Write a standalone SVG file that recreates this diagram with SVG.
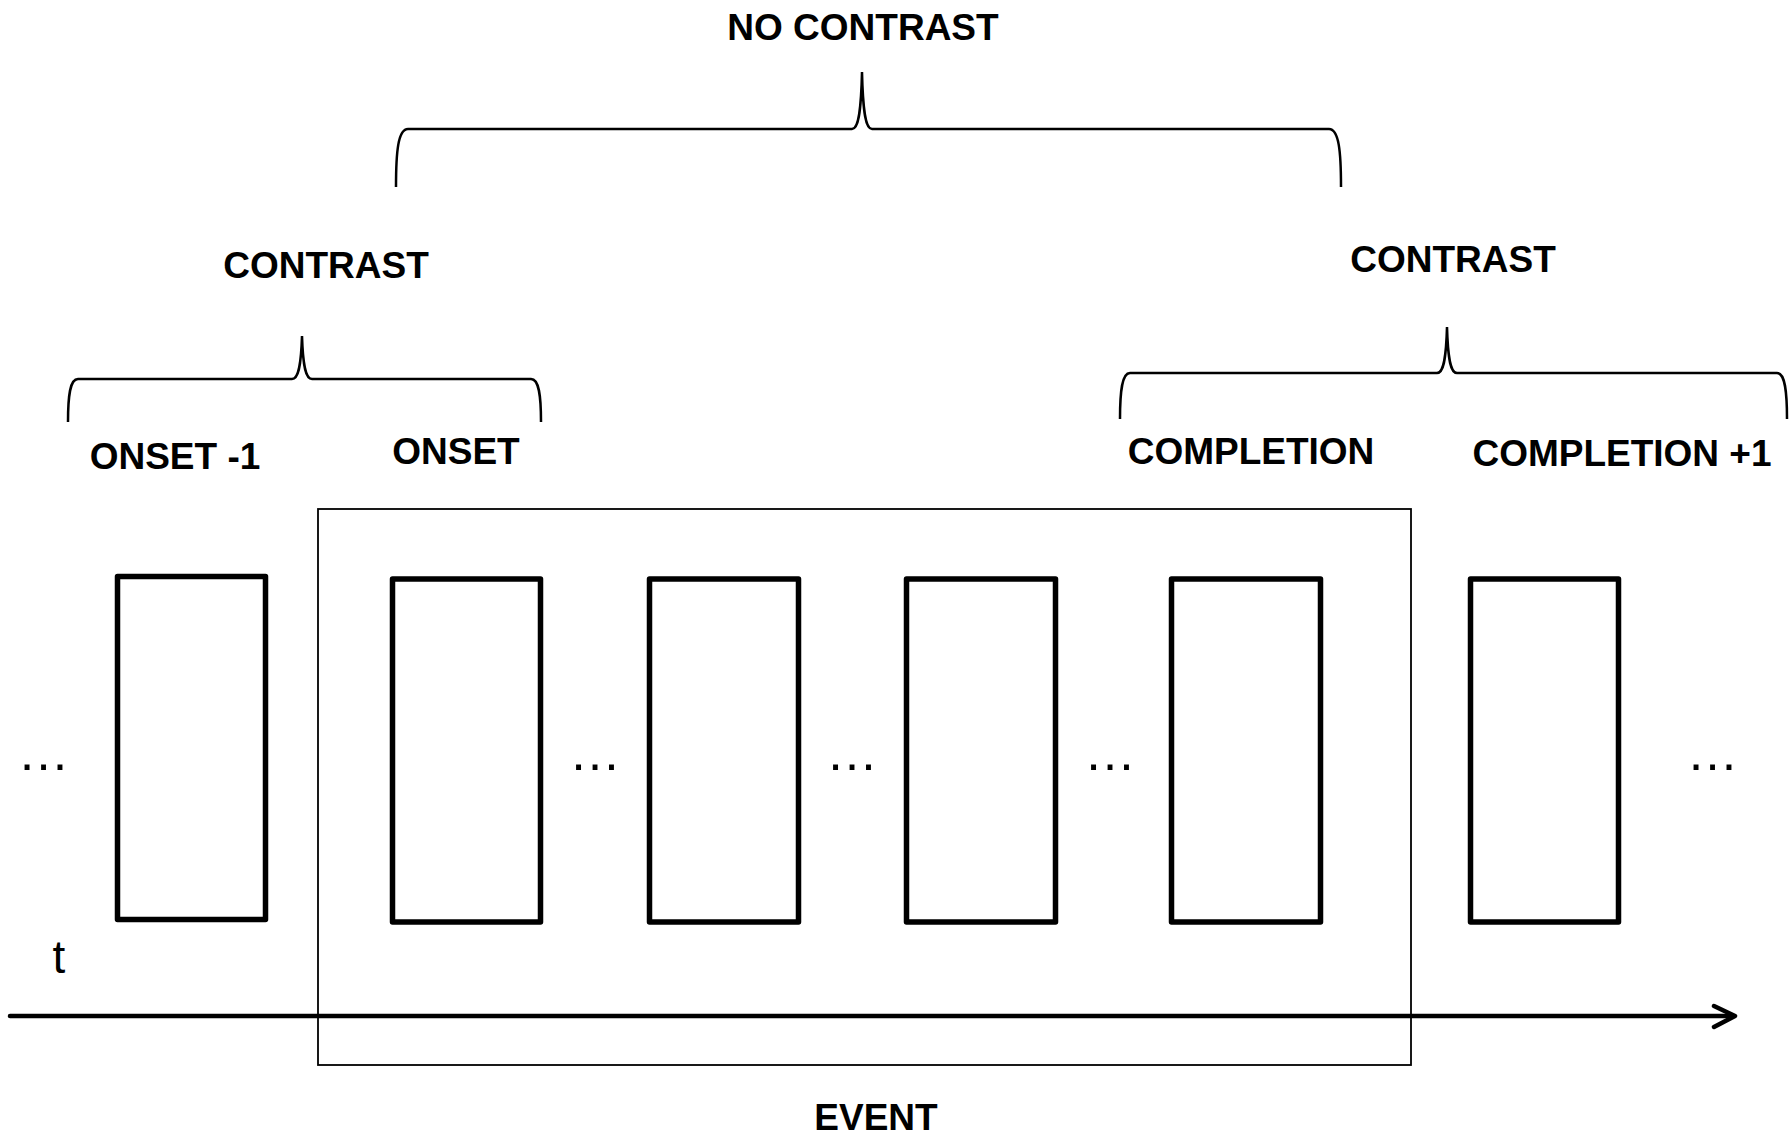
<svg xmlns="http://www.w3.org/2000/svg" width="1791" height="1138" viewBox="0 0 1791 1138">
<style>
  .lbl { font-family: "Liberation Sans", Arial, sans-serif; font-weight: bold; font-size: 37px; fill: #000; text-anchor: middle; }
  .dots { font-family: "Liberation Sans", Arial, sans-serif; font-size: 52px; fill: #000; text-anchor: middle; }
  .frame { fill: #fff; stroke: #000; stroke-width: 5.5; stroke-linejoin: round; }
  .brace { fill: none; stroke: #000; stroke-width: 2.5; }
  .event { fill: none; stroke: #000; stroke-width: 1.8; }
  .axis { fill: none; stroke: #000; stroke-width: 4.5; stroke-linecap: round; stroke-linejoin: round; }
</style>
<rect width="1791" height="1138" fill="#fff"/>

<g id="event-box">
  <rect class="event" x="318" y="509" width="1093" height="556"/>
  <text class="lbl" x="876" y="1130">EVENT</text>
</g>

<g id="frames">
  <g id="frame-onset-minus1"><rect class="frame" x="117.5" y="576.5" width="148" height="343"/></g>
  <g id="frame-onset"><rect class="frame" x="392.5" y="579" width="148" height="343"/></g>
  <g id="frame-2"><rect class="frame" x="649.5" y="579" width="149" height="343"/></g>
  <g id="frame-3"><rect class="frame" x="906.5" y="579" width="149" height="343"/></g>
  <g id="frame-completion"><rect class="frame" x="1171.5" y="579" width="149" height="343"/></g>
  <g id="frame-completion-plus1"><rect class="frame" x="1470.5" y="579" width="148" height="343"/></g>
</g>

<g id="ellipses">
  <text class="dots" x="43.5" y="770">…</text>
  <text class="dots" x="595" y="770">…</text>
  <text class="dots" x="852" y="770">…</text>
  <text class="dots" x="1110" y="770">…</text>
  <text class="dots" x="1712.5" y="770">…</text>
</g>

<g id="labels">
  <text class="lbl" x="175" y="469">ONSET -1</text>
  <text class="lbl" x="456" y="464">ONSET</text>
  <text class="lbl" x="1251" y="464">COMPLETION</text>
  <text class="lbl" x="1622" y="466">COMPLETION +1</text>
</g>

<g id="connectors">
  <g id="brace-no-contrast">
    <path class="brace" d="M396,187 C396,152 398,129 408,129 L852,129 C858,129 861,115 862,72 C863,115 866,129 872,129 L1329,129 C1339,129 1341,152 1341,187"/>
    <text class="lbl" x="863" y="40">NO CONTRAST</text>
  </g>
  <g id="brace-contrast-left">
    <path class="brace" d="M68,422 C68,395 70,379 78,379 L292,379 C298,379 301,368 302,336 C303,368 306,379 312,379 L531,379 C539,379 541,395 541,422"/>
    <text class="lbl" x="326" y="278">CONTRAST</text>
  </g>
  <g id="brace-contrast-right">
    <path class="brace" d="M1120,419 C1120,391 1122,373 1130,373 L1437,373 C1443,373 1446,362 1447,327 C1448,362 1451,373 1457,373 L1777,373 C1785,373 1787,391 1787,419"/>
    <text class="lbl" x="1453" y="272">CONTRAST</text>
  </g>
  <g id="time-axis">
    <path class="axis" d="M10,1016 L1733,1016"/>
    <path class="axis" d="M1714,1006 L1735,1016 L1714,1027"/>
    <text x="59" y="973" style="font-family:'Liberation Sans',Arial,sans-serif;font-size:46px;fill:#000;text-anchor:middle">t</text>
  </g>
</g>
</svg>
